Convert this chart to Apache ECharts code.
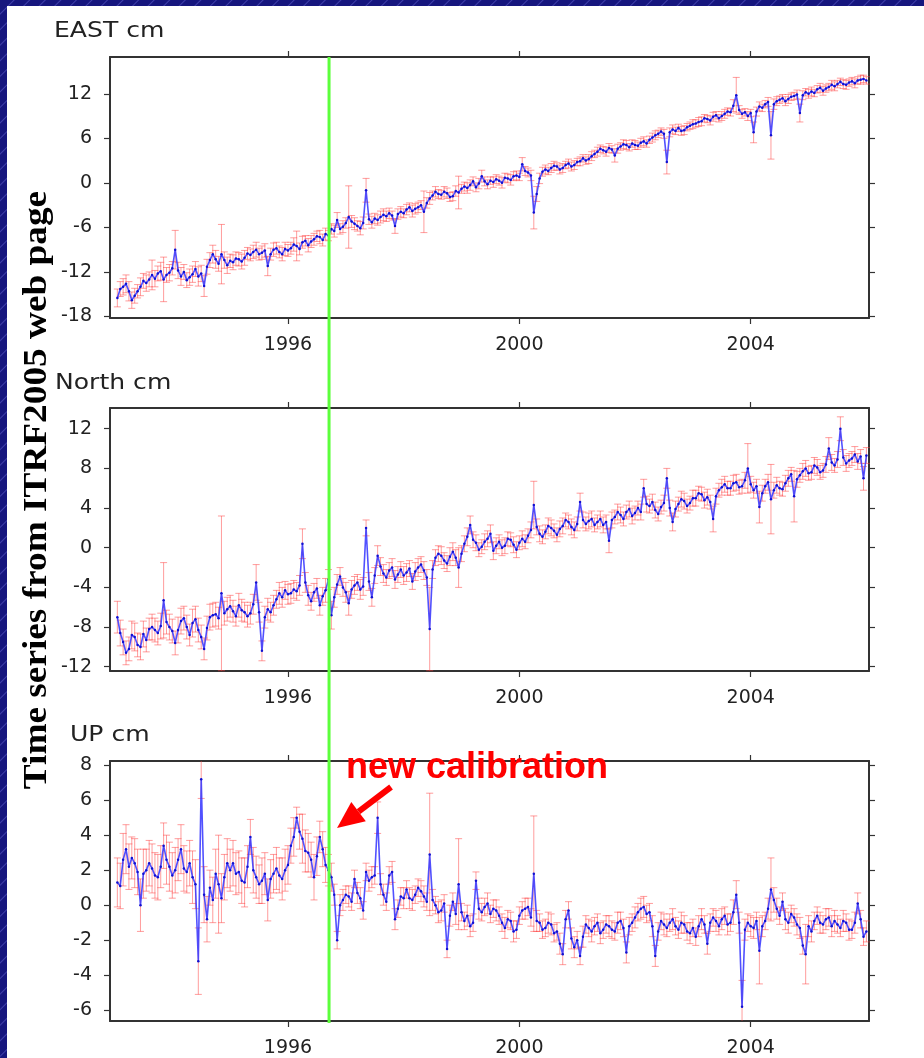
<!DOCTYPE html>
<html><head><meta charset="utf-8">
<script src="https://cdn.jsdelivr.net/npm/echarts@6/dist/echarts.min.js"></script>
<style>
html,body{margin:0;padding:0;width:924px;height:1058px;overflow:hidden;
background:#16167e repeating-linear-gradient(135deg,#16167e 0px,#16167e 9px,#4040aa 10px,#16167e 11px);}
#paper{position:absolute;left:7px;top:6px;width:917px;height:1052px;background:#fff;}
#chart{position:absolute;left:0;top:0;width:924px;height:1058px;}
</style></head><body><div id="paper"></div><div id="chart"></div>
<script>
// ---- sampling of the solutions (decimal years) ----
const sampleStart = 1993.05;
const sampleStep = 0.05;

// ---- EAST component (cm), one row per year ----
const eastValues = [
 -15.5,-14.3,-14.0,-13.6,-14.6,-15.8,-15.2,-14.6,-14.0,-13.2,-13.5,-13.0,-12.4,-12.9,-12.2,-11.9,-13.0,-12.4,-12.1,-11.5,
 -9.0,-11.8,-12.6,-12.0,-13.1,-12.7,-12.3,-11.6,-12.6,-12.2,-13.9,-11.3,-10.4,-9.6,-10.3,-10.9,-9.6,-10.4,-11.1,-10.5,
 -10.7,-10.2,-10.3,-10.6,-10.1,-9.5,-9.7,-9.3,-9.0,-9.6,-9.4,-9.1,-11.2,-9.6,-9.0,-8.8,-9.3,-9.6,-8.9,-9.1,
 -8.8,-8.3,-8.5,-8.9,-8.0,-7.8,-8.4,-7.9,-7.6,-7.2,-7.3,-7.7,-6.9,-7.1,-6.2,-6.5,-5.0,-6.2,-5.9,-5.4,
 -4.6,-5.2,-5.5,-5.8,-6.1,-5.4,-1.0,-4.9,-5.3,-4.8,-5.0,-4.6,-4.3,-4.5,-4.1,-4.4,-5.8,-4.2,-3.9,-4.1,
 -3.6,-3.3,-3.8,-3.5,-3.3,-3.0,-3.9,-2.7,-2.1,-1.7,-1.2,-1.5,-1.6,-1.2,-1.4,-1.9,-1.8,-1.1,-1.3,-0.8,
 -0.5,-0.7,-0.3,0.2,-0.6,-0.1,0.9,0.2,-0.2,0.3,0.1,0.5,0.3,0.0,0.7,0.6,0.4,0.9,1.0,0.8,
 2.5,1.6,1.4,1.0,-4.0,-1.5,0.6,1.5,1.8,1.6,2.0,2.3,2.2,1.8,2.0,2.4,2.6,2.2,2.4,2.8,
 2.9,3.3,3.0,3.2,3.6,3.9,4.2,4.6,4.4,4.2,4.7,4.5,3.7,4.6,4.9,5.2,5.1,4.8,5.3,5.1,
 5.0,5.4,5.6,5.3,5.8,6.1,6.4,6.6,6.9,6.6,2.8,6.8,7.2,7.0,7.4,7.0,7.1,7.5,7.7,7.9,
 8.0,8.2,8.3,8.7,8.6,8.4,8.9,9.1,8.7,9.0,9.3,9.6,9.5,10.4,11.8,9.8,9.3,9.5,9.0,9.4,
 6.8,9.6,10.3,10.1,10.6,10.9,6.4,10.6,11.0,11.2,11.4,11.0,11.3,11.6,11.7,11.9,9.4,11.8,12.2,12.0,
 12.3,12.1,12.6,12.8,12.4,12.7,12.9,13.2,13.0,13.3,13.6,13.3,13.2,13.5,13.7,13.4,13.8,13.9,14.0,13.8];
const eastSigma = [
 1.2,1.0,1.1,1.2,1.3,1.1,1.0,0.9,1.2,1.0,1.1,1.0,2.0,1.1,1.0,1.2,3.0,1.0,1.1,0.9,
 2.6,1.1,1.2,1.0,1.0,1.1,1.1,1.0,1.3,1.1,1.4,1.0,1.0,1.2,1.2,1.0,4.0,1.1,1.1,0.9,
 1.0,0.9,0.9,1.0,1.0,0.8,0.8,0.9,1.0,0.8,0.9,0.9,1.3,0.8,0.9,0.8,0.8,0.9,0.9,0.8,
 0.8,0.9,2.0,0.8,0.8,0.7,0.9,0.8,0.8,0.7,0.9,0.8,0.8,0.7,0.7,0.8,1.0,0.7,0.8,0.7,
 4.2,0.8,0.8,0.7,0.9,0.8,1.6,0.7,0.8,0.7,0.7,0.8,0.8,0.7,0.7,0.6,1.0,0.7,0.7,0.6,
 0.7,0.6,0.8,0.7,0.7,0.6,2.8,0.7,0.8,0.6,0.7,0.6,0.6,0.7,0.7,0.6,0.6,0.7,2.2,0.6,
 0.6,0.7,0.7,0.6,0.6,0.7,0.8,0.6,0.6,0.5,0.7,0.6,0.6,0.7,0.6,0.6,0.7,0.6,0.6,0.5,
 0.9,0.6,0.6,0.7,2.2,1.0,0.7,0.6,0.6,0.5,0.6,0.6,0.5,0.6,0.6,0.5,0.6,0.6,0.6,0.5,
 0.6,0.5,0.5,0.6,0.6,0.5,0.6,0.5,0.5,0.6,0.6,0.5,0.9,0.6,0.5,0.6,0.6,0.5,0.5,0.6,
 0.5,0.6,0.6,0.5,0.5,0.6,0.6,0.5,0.5,0.6,1.6,0.6,0.6,0.5,0.5,0.6,0.6,0.5,0.5,0.6,
 0.5,0.6,0.6,0.5,0.5,0.6,0.6,0.5,0.5,0.6,0.6,0.5,0.5,0.8,2.4,0.6,0.6,0.5,0.6,0.5,
 1.4,0.6,0.6,0.5,0.5,0.6,3.2,0.7,0.6,0.5,0.5,0.6,0.6,0.5,0.5,0.6,1.2,0.6,0.5,0.6,
 0.6,0.5,0.5,0.6,0.6,0.5,0.5,0.6,0.6,0.5,0.5,0.6,0.6,0.5,0.5,0.6,0.5,0.6,0.5,0.5];

// ---- NORTH component (cm) ----
const northValues = [
 -7.0,-8.6,-9.5,-10.6,-10.2,-8.8,-9.0,-9.8,-10.0,-8.7,-9.3,-8.2,-8.0,-8.3,-8.6,-7.9,-5.3,-7.5,-8.0,-8.4,
 -9.6,-8.3,-7.4,-7.1,-8.0,-8.8,-7.6,-7.2,-8.3,-9.0,-10.2,-8.1,-7.0,-6.8,-6.7,-7.1,-4.6,-6.6,-6.2,-5.9,
 -6.4,-6.9,-5.8,-6.3,-6.5,-6.9,-6.6,-5.7,-3.5,-6.5,-10.4,-7.0,-6.2,-6.5,-5.8,-5.2,-4.6,-5.0,-4.3,-4.7,
 -4.6,-4.2,-4.4,-3.8,0.4,-3.5,-4.8,-5.4,-4.5,-4.1,-5.8,-4.9,-4.3,-3.2,-6.8,-5.0,-3.7,-2.9,-4.0,-4.5,
 -5.6,-4.2,-3.8,-3.5,-4.2,-3.9,2.0,-3.4,-5.0,-2.8,-0.8,-1.9,-2.6,-3.0,-2.3,-2.0,-3.2,-2.7,-2.2,-2.8,
 -2.5,-2.1,-3.4,-2.4,-2.0,-1.7,-2.3,-3.0,-8.2,-2.2,-1.0,-0.6,-0.8,-1.3,-1.6,-0.9,-0.4,-1.0,-2.0,-0.6,
 0.4,1.1,2.3,0.8,0.5,-0.2,0.1,0.6,0.9,1.4,-0.3,0.2,0.6,0.0,0.2,0.9,0.8,0.3,-0.2,0.5,
 0.9,0.6,1.2,1.8,4.3,2.1,1.4,1.1,1.6,2.2,2.0,1.7,1.3,1.9,2.2,2.8,2.6,2.1,1.8,2.4,
 4.6,2.8,2.4,2.7,2.9,2.3,2.6,2.9,2.3,2.6,0.7,2.8,3.1,3.6,3.3,2.9,3.6,3.9,3.2,3.5,
 4.0,3.6,6.0,4.4,4.2,4.6,3.8,3.4,4.1,4.5,7.0,4.0,2.6,3.9,4.4,4.9,4.7,4.2,4.5,5.0,
 5.0,5.5,5.4,4.8,5.1,4.6,2.9,5.2,5.8,6.1,6.4,6.0,6.0,6.5,6.6,6.1,6.2,6.8,8.0,6.4,
 5.8,6.2,4.1,5.5,6.2,6.6,4.9,5.8,6.3,6.0,5.9,6.5,7.0,7.4,5.2,6.9,7.3,7.7,8.0,7.5,
 7.6,8.3,8.1,7.6,7.8,8.4,10.0,8.6,8.3,8.9,12.0,9.1,8.5,8.8,9.0,9.4,8.7,9.2,7.0,9.3];
const northSigma = [
 1.6,1.3,1.3,1.2,1.2,1.4,1.4,1.2,1.3,1.3,1.2,1.1,1.3,1.2,1.2,1.3,3.8,1.2,1.3,1.2,
 1.2,1.3,1.3,1.2,1.2,1.1,1.4,1.3,1.2,1.2,1.1,1.2,1.3,1.2,1.2,1.1,7.8,1.2,1.2,1.1,
 1.1,1.0,1.2,1.1,1.0,1.1,1.1,1.0,1.8,1.0,1.0,1.1,1.1,1.0,1.0,0.9,1.1,1.0,0.9,1.0,
 1.0,0.9,0.9,1.0,1.5,1.0,1.0,0.9,0.9,1.0,1.0,0.9,1.2,1.0,1.4,1.0,1.0,0.9,0.9,1.0,
 1.2,0.9,0.9,0.8,1.0,0.9,0.8,0.9,0.9,0.8,1.0,0.9,0.9,0.8,0.8,0.9,0.9,0.8,0.8,0.9,
 0.9,0.8,0.8,0.9,0.9,0.8,0.9,0.8,4.2,0.9,0.8,0.8,0.9,0.8,0.8,0.9,0.9,0.8,2.0,0.8,
 0.8,0.9,0.9,0.8,0.8,0.7,0.7,0.8,0.8,0.9,0.9,0.8,0.7,0.8,0.8,0.7,0.7,0.8,0.8,0.7,
 0.8,0.7,0.7,0.8,2.4,0.8,0.8,0.7,0.7,0.8,0.8,0.7,0.7,0.8,0.8,0.7,0.7,0.8,0.8,0.7,
 0.9,0.8,0.7,0.8,0.8,0.7,0.7,0.8,0.8,0.7,1.2,0.8,0.7,0.8,0.8,0.7,0.7,0.8,0.8,0.7,
 0.7,0.8,0.9,0.8,0.7,0.8,0.8,0.7,0.7,0.8,1.0,0.8,0.9,0.8,0.7,0.8,0.8,0.7,0.7,0.8,
 0.8,0.7,0.7,0.8,0.8,0.7,1.3,0.8,0.7,0.8,0.8,0.7,0.7,0.8,0.8,0.7,0.7,0.8,2.5,0.8,
 0.8,0.7,1.6,0.8,0.7,0.8,3.5,0.8,0.8,0.7,0.7,0.8,0.8,0.7,2.6,0.8,0.7,0.8,0.8,0.7,
 0.7,0.8,0.8,0.7,0.7,0.8,1.1,0.8,0.7,0.8,1.2,0.8,0.8,0.7,0.7,0.8,0.8,0.7,1.2,0.8];

// ---- UP component (cm) ----
const upValues = [
 1.3,1.1,2.6,3.2,2.2,2.7,2.4,1.9,0.0,1.8,2.0,2.4,2.1,1.7,1.6,2.2,3.4,2.6,2.2,1.7,
 2.0,2.6,3.2,2.1,1.9,2.4,1.6,1.2,-3.2,7.2,0.6,-0.8,1.0,0.3,1.8,1.2,0.4,1.6,2.4,2.0,
 2.4,1.8,1.9,1.4,1.3,2.2,3.9,2.0,1.6,1.2,1.4,1.8,0.3,1.5,1.8,2.1,1.7,1.5,2.0,2.3,
 3.4,3.9,5.0,4.2,3.8,3.1,3.0,2.6,1.6,2.8,3.9,3.2,2.3,2.0,1.6,0.6,-2.0,0.0,0.3,0.6,
 0.5,0.2,1.5,0.7,0.4,-0.3,1.9,1.4,1.6,1.7,5.0,1.2,0.6,0.2,1.7,1.9,-0.8,-0.2,0.5,0.4,
 0.9,0.4,0.3,0.6,1.0,0.8,0.5,0.2,2.9,0.3,0.0,-0.4,-0.3,0.1,-2.5,-0.6,0.2,-0.5,1.2,-0.4,
 -0.9,-0.6,-1.2,-1.0,1.4,-0.2,-0.4,-0.1,0.1,-0.5,-0.2,-0.3,-0.6,-1.0,-1.3,-0.8,-0.9,-1.5,-1.4,-0.6,
 -0.3,-0.2,-0.1,-0.7,1.8,-0.9,-1.0,-1.4,-1.3,-1.0,-1.1,-1.6,-1.5,-2.2,-2.8,-0.8,-0.3,-1.9,-2.4,-2.0,
 -2.9,-1.8,-1.1,-1.3,-1.5,-1.2,-1.0,-1.6,-1.4,-1.1,-1.2,-1.4,-1.5,-1.0,-0.9,-1.3,-2.7,-1.2,-1.0,-0.7,
 -0.4,-0.2,-0.1,-0.5,-0.4,-1.2,-2.9,-1.5,-0.9,-1.1,-1.3,-1.0,-0.8,-1.2,-1.4,-1.0,-1.1,-1.5,-1.6,-1.3,
 -1.8,-1.2,-0.8,-1.1,-2.2,-1.0,-0.7,-0.9,-1.2,-0.8,-0.6,-1.1,-1.0,-0.4,0.6,-1.0,-5.8,-1.4,-1.0,-1.2,
 -1.3,-0.9,-2.6,-1.2,-0.9,-0.2,0.9,0.3,-0.2,-0.6,0.2,-0.8,-1.0,-0.5,-0.7,-1.1,-1.3,-2.3,-2.8,-1.2,
 -1.5,-0.9,-0.6,-1.0,-1.1,-0.8,-0.7,-1.2,-0.9,-1.1,-1.3,-0.9,-1.0,-1.4,-1.4,-1.0,0.1,-0.8,-1.8,-1.5];
const upSigma = [
 1.4,1.3,1.5,1.4,1.3,1.2,1.4,1.3,1.5,1.4,1.2,1.3,1.4,1.3,1.3,1.2,1.3,1.4,1.4,1.3,
 1.3,1.2,1.4,1.3,1.2,1.3,1.5,1.4,1.9,1.1,1.6,1.3,1.0,1.3,1.4,2.8,1.4,1.3,1.4,1.2,
 1.3,1.2,1.2,1.3,1.4,1.2,1.0,1.3,1.2,1.1,1.3,1.2,1.2,1.1,1.1,1.2,1.0,1.2,1.2,1.1,
 1.0,1.1,0.6,1.0,1.4,1.2,1.1,1.0,1.3,1.1,0.9,1.0,1.0,0.9,0.8,0.6,0.5,0.6,0.6,0.5,
 0.6,0.5,0.5,0.6,0.6,0.5,0.5,0.6,0.6,0.5,0.9,0.6,0.6,0.5,0.5,0.6,0.6,0.5,0.5,0.6,
 0.5,0.6,0.6,0.5,0.5,0.6,0.6,0.5,3.5,0.6,0.5,0.6,0.6,0.5,0.5,0.6,0.5,0.6,2.6,0.5,
 0.5,0.6,0.6,0.5,0.5,0.6,0.5,0.5,0.6,0.5,0.5,0.6,0.5,0.5,0.6,0.5,0.5,0.6,0.5,0.5,
 0.5,0.6,0.5,0.5,3.3,0.6,0.5,0.5,0.5,0.6,0.6,0.5,0.5,0.6,0.6,0.5,0.5,0.6,0.6,0.5,
 0.5,0.6,0.5,0.5,0.6,0.5,0.5,0.6,0.5,0.5,0.6,0.5,0.5,0.6,0.5,0.5,0.6,0.5,0.5,0.6,
 0.5,0.6,0.6,0.5,0.5,0.6,0.6,0.5,0.5,0.6,0.5,0.5,0.6,0.5,0.5,0.6,0.5,0.5,0.6,0.5,
 0.5,0.6,0.6,0.5,0.6,0.5,0.5,0.6,0.5,0.6,0.5,0.6,0.5,0.7,0.8,0.6,1.5,0.6,0.5,0.6,
 0.6,0.5,1.9,0.6,0.5,0.6,1.8,0.7,0.6,0.5,0.5,0.6,0.6,0.5,0.5,0.6,0.6,0.5,1.7,0.6,
 0.6,0.5,0.5,0.6,0.5,0.6,0.5,0.6,0.6,0.5,0.5,0.6,0.5,0.6,0.5,0.6,0.6,0.5,0.5,0.6];

// ---- ticks, labels, annotations ----
const eastTicks = [-18,-12,-6,0,6,12];
const northTicks = [-12,-8,-4,0,4,8,12];
const upTicks = [-6,-4,-2,0,2,4,6,8];
const yearTicks = [1996,2000,2004];
const panelTitles = ['EAST cm','North cm','UP cm'];
const calibrationEpoch = 1996.71;
const calibrationLabel = 'new calibration';
const sideTitle = 'Time series from ITRF2005 web page';

// ---- layout / style ----
const xRange = [1992.923, 2006.045];
const panels = [
  {values:eastValues, sigma:eastSigma, ticks:eastTicks, yMin:-18.2, yMax:16.95, top:57, height:261, title:panelTitles[0], tx:54, ty:31},
  {values:northValues, sigma:northSigma, ticks:northTicks, yMin:-12.43, yMax:14.09, top:408, height:263, title:panelTitles[1], tx:55, ty:383},
  {values:upValues, sigma:upSigma, ticks:upTicks, yMin:-6.62, yMax:8.24, top:761, height:262, title:panelTitles[2], tx:70, ty:735}
];
const gridLeft = 110, gridWidth = 759;
const axisColor = '#333';
const labelFont = {fontFamily:'DejaVu Sans', fontSize:19, color:'#222'};

function epochOf(i){ return sampleStart + i * sampleStep; }

function errorBarRenderer(yMin, yMax){
  return function(params, api){
    const t = api.value(0);
    const loRaw = api.value(1), hiRaw = api.value(2);
    const lo = Math.max(loRaw, yMin), hi = Math.min(hiRaw, yMax);
    const pLo = api.coord([t, lo]);
    const pHi = api.coord([t, hi]);
    const cap = 3.5;
    const style = {stroke:'rgba(255,60,60,0.5)', lineWidth:1, fill:null};
    const children = [{type:'line', shape:{x1:pLo[0], y1:pLo[1], x2:pHi[0], y2:pHi[1]}, style}];
    if (loRaw >= yMin) children.push({type:'line', shape:{x1:pLo[0]-cap, y1:pLo[1], x2:pLo[0]+cap, y2:pLo[1]}, style});
    if (hiRaw <= yMax) children.push({type:'line', shape:{x1:pHi[0]-cap, y1:pHi[1], x2:pHi[0]+cap, y2:pHi[1]}, style});
    return {type:'group', children};
  };
}

const grid = [], xAxis = [], yAxis = [], series = [];
panels.forEach((p, k) => {
  grid.push({left:gridLeft, top:p.top, width:gridWidth, height:p.height, containLabel:false});
  const line = {show:true, onZero:false, lineStyle:{color:axisColor, width:2}};
  const tick = {show:true, length:6, lineStyle:{color:axisColor, width:1.2}};
  const fmt = v => String(v);
  xAxis.push({type:'value', gridIndex:k, position:'bottom', min:xRange[0], max:xRange[1],
    axisLine:line, splitLine:{show:false},
    axisTick:Object.assign({customValues:yearTicks}, tick),
    axisLabel:Object.assign({customValues:yearTicks, margin:18, formatter:fmt}, labelFont)});
  xAxis.push({type:'value', gridIndex:k, position:'top', min:xRange[0], max:xRange[1],
    axisLine:line, splitLine:{show:false},
    axisTick:Object.assign({customValues:yearTicks}, tick),
    axisLabel:{show:false}});
  yAxis.push({type:'value', gridIndex:k, position:'left', min:p.yMin, max:p.yMax,
    axisLine:line, splitLine:{show:false},
    axisTick:Object.assign({customValues:p.ticks}, tick),
    axisLabel:Object.assign({customValues:p.ticks, margin:18, formatter:fmt}, labelFont)});
  yAxis.push({type:'value', gridIndex:k, position:'right', min:p.yMin, max:p.yMax,
    axisLine:line, splitLine:{show:false},
    axisTick:Object.assign({customValues:p.ticks}, tick),
    axisLabel:{show:false}});
  const bars = p.values.map((v, i) => [epochOf(i), v - p.sigma[i], v + p.sigma[i]]);
  const pts = p.values.map((v, i) => [epochOf(i), v]);
  series.push({type:'custom', xAxisIndex:2*k, yAxisIndex:2*k, data:bars,
    encode:{x:0, y:[1,2]}, renderItem:errorBarRenderer(p.yMin, p.yMax), z:2, silent:true});
  series.push({type:'line', xAxisIndex:2*k, yAxisIndex:2*k, data:pts, z:3,
    showSymbol:true, symbol:'circle', symbolSize:2.5,
    itemStyle:{color:'#1010d0'}, lineStyle:{color:'rgba(50,50,255,0.85)', width:1.6}, silent:true});
});

const chart = echarts.init(document.getElementById('chart'), null, {renderer:'canvas'});
chart.setOption({animation:false, backgroundColor:'transparent', grid, xAxis, yAxis, series});

// green calibration line across all three panels + annotations
const gx = chart.convertToPixel({xAxisIndex:0}, calibrationEpoch);
const topY = panels[0].top, botY = panels[2].top + panels[2].height;
const tip = [gx + 8, 828], tail = [gx + 62, 787];
const dx = tail[0]-tip[0], dy = tail[1]-tip[1], L = Math.hypot(dx, dy);
const ux = dx/L, uy = dy/L, headLen = 27, headHalf = 12;
const bc = [tip[0]+ux*headLen, tip[1]+uy*headLen];
const graphics = panels.map(p => ({type:'text', z:100, x:p.tx, y:p.ty, scaleX:1.14,
  style:{text:p.title, font:'22px "DejaVu Sans"', fill:'#222', textAlign:'left', textVerticalAlign:'middle', align:'left', verticalAlign:'middle'}}));
graphics.push(
  {type:'line', z:100, shape:{x1:gx, y1:topY, x2:gx, y2:botY}, style:{stroke:'#5cff3c', lineWidth:3}},
  {type:'text', z:100, x:37, y:490, rotation:Math.PI/2, scaleX:1.13,
    style:{text:sideTitle, font:'bold 33px "Liberation Serif"', fill:'#000', textAlign:'center', textVerticalAlign:'middle', align:'center', verticalAlign:'middle'}},
  {type:'text', z:100, x:477, y:768,
    style:{text:calibrationLabel, font:'bold 36px "Liberation Sans"', fill:'#ff0000', textAlign:'center', textVerticalAlign:'middle', align:'center', verticalAlign:'middle'}},
  {type:'line', z:100, shape:{x1:tail[0], y1:tail[1], x2:bc[0], y2:bc[1]}, style:{stroke:'#ff0000', lineWidth:6}},
  {type:'polygon', z:100, shape:{points:[tip, [bc[0]-uy*headHalf, bc[1]+ux*headHalf], [bc[0]+uy*headHalf, bc[1]-ux*headHalf]]}, style:{fill:'#ff0000'}}
);
chart.setOption({graphic:graphics});
</script></body></html>
